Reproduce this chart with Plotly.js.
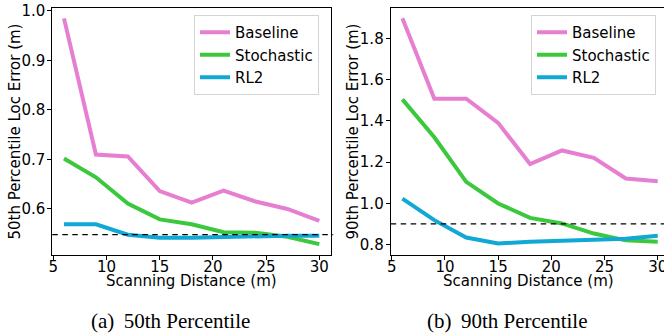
<!DOCTYPE html>
<html>
<head>
<meta charset="utf-8">
<script src="https://cdn.plot.ly/plotly-3.0.1.min.js"></script>
<style>html,body{margin:0;padding:0;background:#fff;}#chart{width:664px;height:333px;}</style>
</head>
<body>
<div id="chart"></div>
<script>
// Data
const distances = [6, 9, 12, 15, 18, 21, 24, 27, 30];
const baseline50 = [0.985, 0.710, 0.706, 0.636, 0.613, 0.637, 0.615, 0.600, 0.576];
const stochastic50 = [0.702, 0.664, 0.611, 0.579, 0.569, 0.553, 0.552, 0.544, 0.529];
const rl2_50 = [0.569, 0.569, 0.548, 0.542, 0.542, 0.544, 0.545, 0.546, 0.546];
const baseline90 = [1.897, 1.507, 1.507, 1.390, 1.190, 1.256, 1.220, 1.120, 1.107];
const stochastic90 = [1.504, 1.320, 1.104, 0.999, 0.929, 0.902, 0.853, 0.820, 0.813];
const rl2_90 = [1.022, 0.918, 0.834, 0.805, 0.813, 0.818, 0.822, 0.828, 0.842];
const ref50 = 0.548;
const ref90 = 0.90;
const seriesNames = ['Baseline', 'Stochastic', 'RL2'];
const xTitle = 'Scanning Distance (m)';
const yTitles = ['50th Percentile Loc Error (m)', '90th Percentile Loc Error (m)'];
const captions = ['(a)\u00a0\u200950th Percentile', '(b)\u00a0\u200990th Percentile'];

const colors = ['#e67fd2', '#3cc83c', '#12a8d6'];
const W = 664, H = 333;
const font = 'DejaVu Sans, sans-serif';
const FS = 15;

function mk(y, i, xa, ya, leg) {
  return {x: distances, y: y, name: seriesNames[i], type: 'scatter', mode: 'lines',
    xaxis: xa, yaxis: ya, legend: leg, showlegend: true,
    line: {color: colors[i], width: 4}};
}
const traces = [
  mk(baseline50, 0, 'x', 'y', 'legend'),
  mk(stochastic50, 1, 'x', 'y', 'legend'),
  mk(rl2_50, 2, 'x', 'y', 'legend'),
  mk(baseline90, 0, 'x2', 'y2', 'legend2'),
  mk(stochastic90, 1, 'x2', 'y2', 'legend2'),
  mk(rl2_90, 2, 'x2', 'y2', 'legend2')
];

const yDom = [(H - 255) / H, (H - 8) / H];
const tf = {family: font, size: FS, color: '#000'};
const axBase = {showgrid: false, zeroline: false, showline: true, linecolor: '#000', linewidth: 1,
  ticks: 'outside', ticklen: 4, tickwidth: 1, tickcolor: '#000',
  tickfont: tf, automargin: false, ticklabeloverflow: 'allow'};
const xBase = Object.assign({}, axBase, {ticklabelstandoff: -6});
const yBase = Object.assign({}, axBase, {ticklabelstandoff: -1});

function ann(text, px, py, angle, f) {
  return {text: text, xref: 'paper', yref: 'paper', x: px / W, y: (H - py) / H,
    xanchor: 'center', yanchor: 'middle', textangle: angle || 0, showarrow: false, font: f};
}
const capFont = {family: 'Liberation Serif, Times New Roman, serif', size: 21, color: '#000'};

const layout = {
  width: W, height: H, margin: {l: 0, r: 0, t: 0, b: 0},
  paper_bgcolor: '#fff', plot_bgcolor: '#fff',
  font: tf,
  xaxis: Object.assign({}, xBase, {domain: [52.3 / W, 331 / W], range: [4.9, 31.1], dtick: 5, tick0: 0, mirror: true, anchor: 'y'}),
  yaxis: Object.assign({}, yBase, {domain: yDom, range: [0.507, 1.006], dtick: 0.1, tick0: 0, tickformat: '.1f', mirror: true, anchor: 'x'}),
  xaxis2: Object.assign({}, xBase, {domain: [390.7 / W, 1], range: [4.9, 30.59], dtick: 5, tick0: 0, mirror: true, anchor: 'y2'}),
  yaxis2: Object.assign({}, yBase, {domain: yDom, range: [0.749, 1.947], dtick: 0.2, tick0: 0, tickformat: '.1f', mirror: false, anchor: 'x2'}),
  legend: {x: 194 / W, y: (H - 15) / H, xanchor: 'left', yanchor: 'top', bgcolor: 'rgba(255,255,255,0.8)',
    bordercolor: '#d4d4d4', borderwidth: 1, font: tf},
  legend2: {x: 531 / W, y: (H - 15) / H, xanchor: 'left', yanchor: 'top', bgcolor: 'rgba(255,255,255,0.8)',
    bordercolor: '#d4d4d4', borderwidth: 1, font: tf},
  shapes: [
    {type: 'line', xref: 'x domain', yref: 'y', x0: 0, x1: 1.008, y0: ref50, y1: ref50,
      line: {color: '#000', width: 1.3, dash: '5.5px,4.5px'}, layer: 'above'},
    {type: 'line', xref: 'x2 domain', yref: 'y2', x0: 0, x1: 1, y0: ref90, y1: ref90,
      line: {color: '#000', width: 1.3, dash: '5.5px,4.5px'}, layer: 'above'}
  ],
  annotations: [
    ann(xTitle, 191.7, 281, 0, tf),
    ann(xTitle, 528.7, 281, 0, tf),
    ann(yTitles[0], 14, 131.5, -90, tf),
    ann(yTitles[1], 352, 131.5, -90, tf),
    ann(captions[0], 170, 321, 0, capFont),
    ann(captions[1], 507, 321, 0, capFont)
  ]
};

Plotly.newPlot('chart', traces, layout, {staticPlot: true, displayModeBar: false});
</script>
</body>
</html>
